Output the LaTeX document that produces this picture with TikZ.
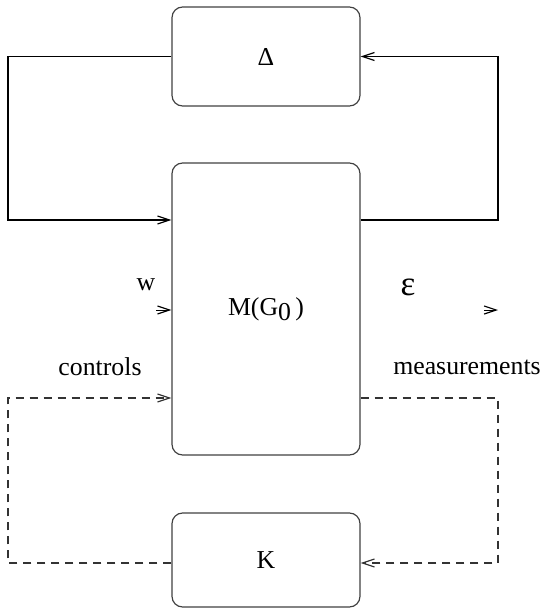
\documentclass[tikz,border=0pt]{standalone}
\usepackage{fontspec}
\setmainfont{Liberation Serif}
\usetikzlibrary{arrows.meta}

\begin{document}
\begin{tikzpicture}[x=0.015cm,y=-0.015cm]
\tikzset{
  blockbox/.style={rectangle,rounded corners=1.6mm,draw=black!75,line width=0.5pt,inner sep=0pt,minimum width=2.82cm,font=\fontsize{11}{13}\selectfont},
  sigline/.style={draw=black,line width=0.7pt,line join=miter},
  fbline/.style={sigline,draw=black!80,dash pattern=on 1.2mm off 0.9mm},
  arrowed/.style={-{Straight Barb[length=1.8mm,width=1.2mm,line width=0.5pt]}},
  siglabel/.style={font=\fontsize{11}{13}\selectfont,inner sep=0pt}
}
\useasboundingbox (0,0) rectangle (544,610);
\node[blockbox,minimum height=1.485cm] (n_Delta) at (266,56.5) {Δ};
\node[blockbox,minimum height=4.38cm] (n_M) at (266,309) {M(G\raisebox{-0.45ex}{0}\,)};
\node[blockbox,minimum height=1.41cm] (n_K) at (266,560) {K};
\coordinate (c_tl) at (8,56.5);
\coordinate (c_bl) at (8,220);
\coordinate (c_tr) at (498,56.5);
\coordinate (c_br) at (498,220);
\coordinate (c_kl) at (8,563);
\coordinate (c_cl) at (8,398);
\coordinate (c_kr) at (498,563);
\coordinate (c_mr) at (498,398);
\coordinate (c_w) at (156,310);
\coordinate (c_e0) at (484,310);
\coordinate (c_e1) at (498,310);
\node[siglabel] (l_w) at (146,285) {w};
\node[siglabel,font=\fontsize{15}{17}\selectfont] (l_eps) at (408,287) {ε};
\node[siglabel] (l_ctrl) at (100,367) {controls};
\node[siglabel] (l_meas) at (467,367) {measurements};
% uncertainty loop
\draw[sigline,arrowed] (n_Delta.west) -- (c_tl) -- (c_bl) -- (n_M.west |- c_bl);
\draw[sigline,arrowed] (n_M.east |- c_br) -- (c_br) -- (c_tr) -- (n_Delta.east);
% exogenous signals
\draw[sigline,line width=0.3pt,arrowed] (c_w) -- (n_M.west |- c_w);
\draw[sigline,line width=0.3pt,arrowed] (c_e0) -- (c_e1);
% controller loop
\draw[fbline,arrowed] (n_K.west |- c_kl) -- (c_kl) -- (c_cl) -- (n_M.west |- c_cl);
\draw[fbline,arrowed] (n_M.east |- c_mr) -- (c_mr) -- (c_kr) -- (n_K.east |- c_kr);
\end{tikzpicture}
\end{document}
